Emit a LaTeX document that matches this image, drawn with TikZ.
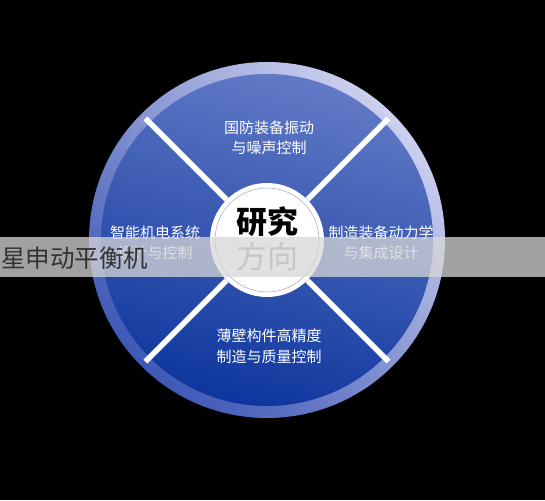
\documentclass[tikz,border=0pt]{standalone}
\usepackage{fontspec}
\usepackage{tikz}
\newfontfamily\cjk{Noto Sans CJK SC}

\definecolor{rimhi}{RGB}{205,208,238}
\definecolor{rimlo}{RGB}{62,88,182}
\definecolor{dischi}{RGB}{98,122,198}
\definecolor{discmid}{RGB}{40,74,170}
\definecolor{disclo}{RGB}{14,54,158}
\definecolor{bandgray}{RGB}{215,215,215}
\definecolor{hubring}{RGB}{175,178,200}

\begin{document}
\begin{tikzpicture}
	[
		x=1pt, y=-1pt,
		topic/.style = {align=center, text=white, font=\cjk\fontsize{15}{20.5}\selectfont},
		hub/.style = {circle, align=center, draw=none, fill=white, minimum size=114pt, inner sep=0pt},
		spoke/.style = {draw=white, line width=5.5pt},
	]

	% background
	\fill[black] (0,0) rectangle (545,500);
	\useasboundingbox (0,0) rectangle (545,500);

	% rim and disc
	\shade[top color=rimhi, bottom color=rimlo, shading angle=-45] (267,240) circle (178);
	\shade[top color=dischi, middle color=discmid, bottom color=disclo, shading angle=-15] (267,240) circle (166);

	% hub and spokes
	\node[hub] (hub) at (267,240) {};
	\coordinate (ne) at (388.6,118.4);
	\coordinate (nw) at (145.4,118.4);
	\coordinate (sw) at (145.4,361.6);
	\coordinate (se) at (388.6,361.6);

	\foreach \to in {ne,nw,sw,se}
	\draw[spoke] (hub) -- (\to);

	\draw[hubring, line width=0.6pt] (hub.center) circle (52);

	% research topics
	\node[topic] (defense) 	at ( 269, 138 ) {国防装备振动\\与噪声控制};
	\node[topic] (mecha) 	at ( 155, 243 ) {智能机电系统\\设计与控制};
	\node[topic] (dynam) 	at ( 381, 243 ) {制造装备动力学\\与集成设计};
	\node[topic] (thin) 	at ( 269, 346 ) {薄壁构件高精度\\制造与质量控制};

	% center words
	\node[font=\cjk\bfseries\fontsize{31}{34}\selectfont, text=black] (yan) at ( 267, 222 ) {研究};
	\node[font=\cjk\fontsize{31}{34}\selectfont, text={rgb,255:red,150;green,150;blue,150}] (fang) at ( 267, 257 ) {方向};

	% overlay band
	\fill[bandgray, opacity=0.75] (0,237) rectangle (545,277);
	\node[anchor=west, inner sep=0pt, text=black!80, font=\cjk\fontsize{24.5}{26}\selectfont] (brand) at ( 1, 258 ) {星申动平衡机};

	\end{tikzpicture}
\end{document}
